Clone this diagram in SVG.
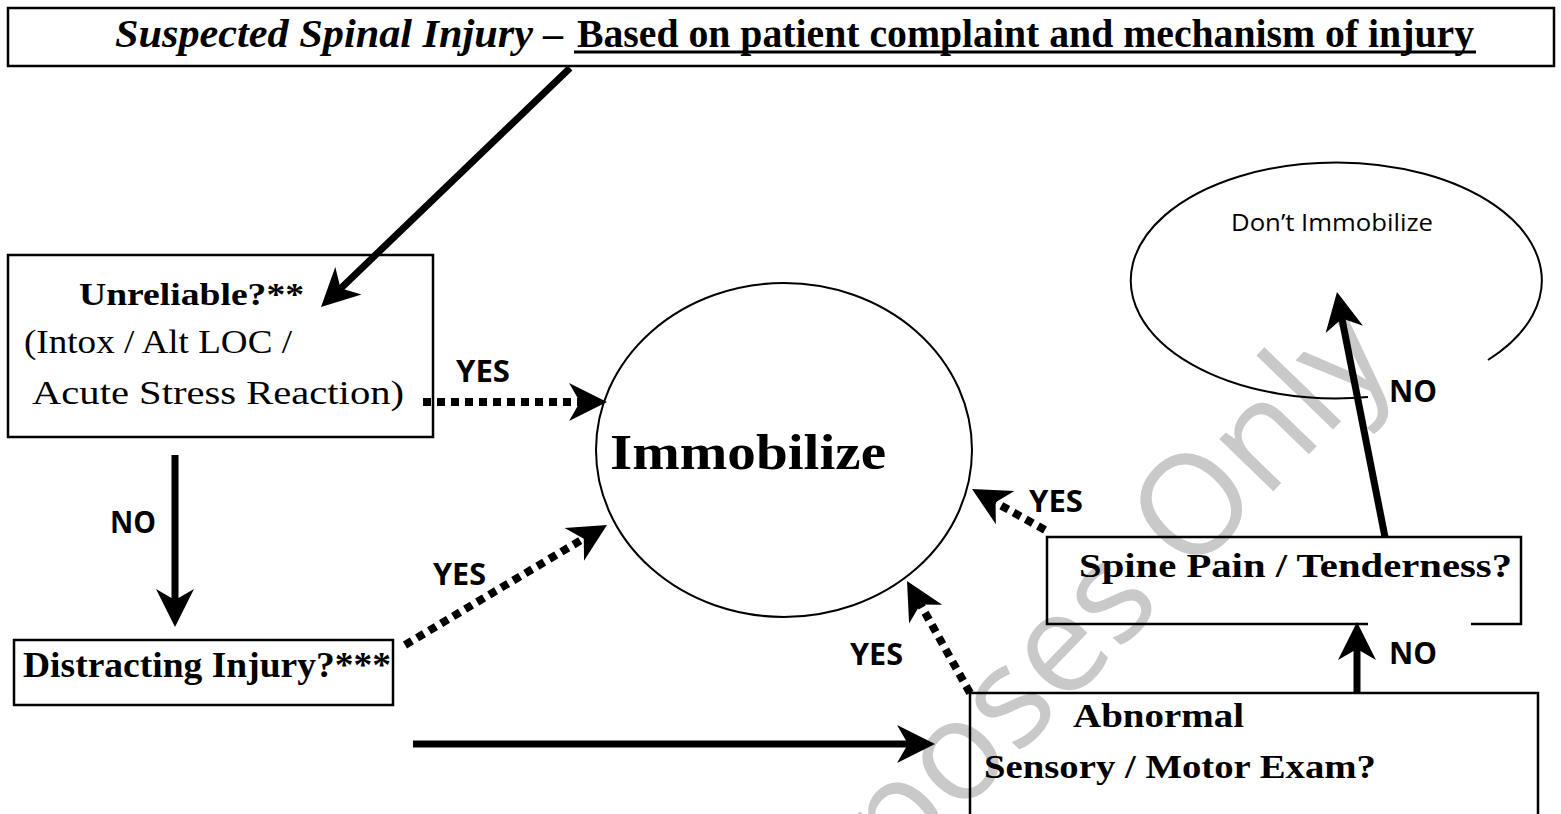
<svg xmlns="http://www.w3.org/2000/svg" width="1561" height="814" viewBox="0 0 1561 814">
<defs>
<style>
.box{fill:none;stroke:#000;stroke-width:2.5}
.ell{fill:none;stroke:#000;stroke-width:2}
.solid{stroke:#000;stroke-width:7;fill:none}
.dot{stroke:#000;stroke-width:8;stroke-dasharray:8 6;fill:none}
.serif{font-family:'Liberation Serif','Times New Roman',serif;fill:#000}
.b{font-weight:bold}
.lbl{font-family:'Open Sans','DejaVu Sans',sans-serif;font-weight:bold;font-size:30px;fill:#000}
.wm{font-family:'Open Sans','Liberation Sans',sans-serif;font-size:140px;fill:#c9c9c9}
</style>
<path id="ah" d="M0,0 L-38,-19 L-27,0 L-38,19 Z" fill="#000"/>
</defs>
<rect width="1561" height="814" fill="#fff"/>
<text class="wm" transform="translate(1398,362) rotate(-46)" text-anchor="end">Purposes Only</text>

<g id="title">
<rect class="box" x="8" y="8" width="1546" height="58" stroke-width="3"/>
<text class="serif b" x="115" y="47" font-size="40" font-style="italic" textLength="418" lengthAdjust="spacingAndGlyphs">Suspected Spinal Injury</text>
<text class="serif b" x="543" y="47" font-size="40">–</text>
<text class="serif b" x="577" y="47" font-size="40" textLength="897" lengthAdjust="spacingAndGlyphs">Based on patient complaint and mechanism of injury</text>
<line x1="574" y1="52" x2="1476" y2="52" stroke="#000" stroke-width="3"/>
</g>

<g id="unreliable">
<rect class="box" x="8" y="255" width="425" height="182"/>
<text class="serif b" x="79" y="305" font-size="32" textLength="225" lengthAdjust="spacingAndGlyphs">Unreliable?**</text>
<text class="serif" x="24" y="353" font-size="33" textLength="268" lengthAdjust="spacingAndGlyphs">(Intox / Alt LOC /</text>
<text class="serif" x="32" y="404" font-size="33" textLength="372" lengthAdjust="spacingAndGlyphs">Acute Stress Reaction)</text>
</g>

<g id="distracting">
<rect class="box" x="14" y="640" width="379" height="65"/>
<text class="serif b" x="23" y="677" font-size="35" textLength="368" lengthAdjust="spacingAndGlyphs">Distracting Injury?***</text>
</g>

<g id="immobilize">
<ellipse class="ell" cx="784" cy="450" rx="188" ry="167"/>
<text class="serif b" x="610" y="469" font-size="50" textLength="276" lengthAdjust="spacingAndGlyphs">Immobilize</text>
</g>

<g id="dont">
<path class="ell" d="M1368,397 A205.5,118 0 1 1 1488,360"/>
<text x="1231" y="231" font-family="'Open Sans','DejaVu Sans',sans-serif" font-size="23" textLength="202" lengthAdjust="spacingAndGlyphs">Don’t Immobilize</text>
</g>

<g id="spine">
<path class="box" d="M1368,624 H1047 V537 H1521 V624 H1471"/>
<text class="serif b" x="1079" y="577" font-size="34" textLength="433" lengthAdjust="spacingAndGlyphs">Spine Pain / Tenderness?</text>
</g>

<g id="abnormal">
<path class="box" d="M970,814 V693 H1538 V814"/>
<text class="serif b" x="1073" y="727" font-size="34" textLength="171" lengthAdjust="spacingAndGlyphs">Abnormal</text>
<text class="serif b" x="984" y="778" font-size="34" textLength="392" lengthAdjust="spacingAndGlyphs">Sensory / Motor Exam?</text>
</g>

<g id="connectors">
<line class="solid" x1="570" y1="68" x2="337" y2="292"/>
<use href="#ah" transform="translate(321,307) rotate(136.2)"/>
<line class="solid" x1="175" y1="455" x2="175" y2="605"/>
<use href="#ah" transform="translate(175,627) rotate(90)"/>
<line class="dot" x1="423" y1="402" x2="585" y2="402"/>
<use href="#ah" transform="translate(607,402)"/>
<line class="dot" x1="405" y1="645" x2="588" y2="536"/>
<use href="#ah" transform="translate(607,525) rotate(-30.7)"/>
<line class="solid" x1="413" y1="744" x2="913" y2="744"/>
<use href="#ah" transform="translate(935,744)"/>
<line class="dot" x1="970" y1="693" x2="918" y2="600"/>
<use href="#ah" transform="translate(907,581) rotate(-119.4)"/>
<line class="dot" x1="1045" y1="530" x2="991" y2="500"/>
<use href="#ah" transform="translate(972,489) rotate(-150.7)"/>
<line class="solid" x1="1385" y1="537" x2="1341" y2="314"/>
<use href="#ah" transform="translate(1337,292) rotate(-101.1)"/>
<line class="solid" x1="1357" y1="693" x2="1357" y2="644"/>
<use href="#ah" transform="translate(1357,622) rotate(-90)"/>
<text class="lbl" x="456" y="382" textLength="54" lengthAdjust="spacingAndGlyphs">YES</text>
<text class="lbl" x="110" y="533" textLength="46" lengthAdjust="spacingAndGlyphs">NO</text>
<text class="lbl" x="433" y="585" textLength="53" lengthAdjust="spacingAndGlyphs">YES</text>
<text class="lbl" x="850" y="665" textLength="53" lengthAdjust="spacingAndGlyphs">YES</text>
<text class="lbl" x="1029" y="512" textLength="54" lengthAdjust="spacingAndGlyphs">YES</text>
<text class="lbl" x="1389" y="402" textLength="48" lengthAdjust="spacingAndGlyphs">NO</text>
<text class="lbl" x="1389" y="664" textLength="48" lengthAdjust="spacingAndGlyphs">NO</text>
</g>
</svg>
